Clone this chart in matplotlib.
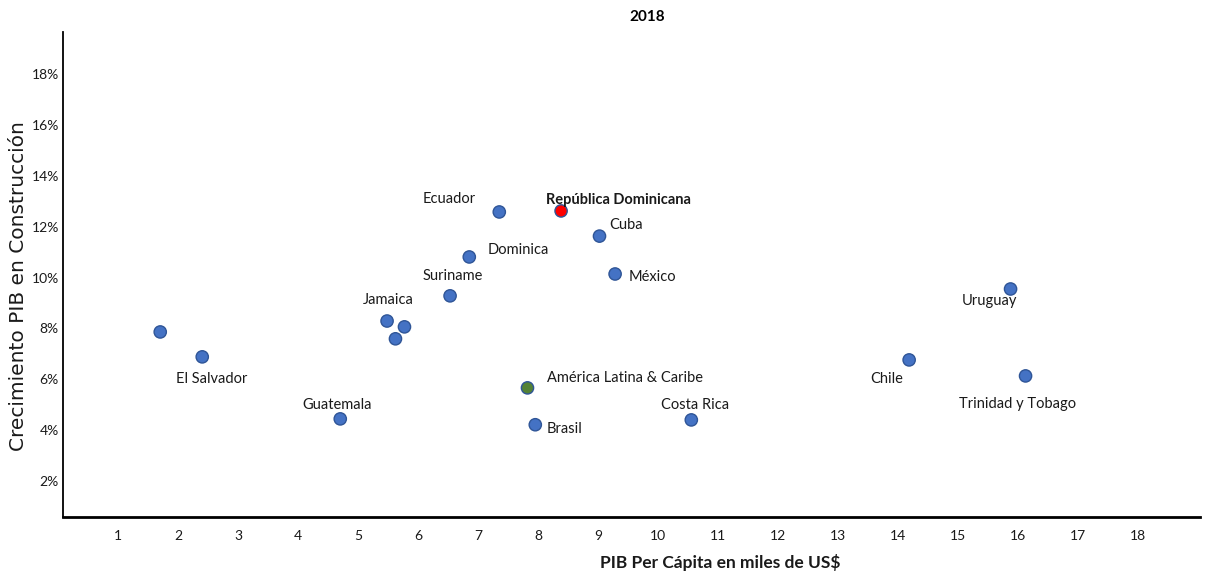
import matplotlib.pyplot as plt
from matplotlib.ticker import PercentFormatter

plt.rcParams['font.family'] = ['Lato', 'DejaVu Sans']

# PIB per cápita (miles de US$) y crecimiento del PIB en construcción (%)
paises = ['', 'El Salvador', 'Guatemala', 'Jamaica', '', '', 'Suriname',
          'Dominica', 'Ecuador', 'República Dominicana', 'Cuba', 'México',
          'América Latina & Caribe', 'Brasil', 'Costa Rica', 'Chile',
          'Uruguay', 'Trinidad y Tobago']
pib_pc = [1.70, 2.40, 4.70, 5.48, 5.77, 5.62, 6.53, 6.85, 7.35, 8.38, 9.02,
          9.28, 7.82, 7.95, 10.55, 14.18, 15.87, 16.12]
crec = [7.86, 6.88, 4.44, 8.29, 8.06, 7.59, 9.28, 10.81, 12.58, 12.62, 11.63,
        10.14, 5.66, 4.21, 4.40, 6.76, 9.55, 6.13]

# desplazamiento de cada etiqueta (puntos) y alineación horizontal
offsets = [(0, 0, 'center'), (7, -16, 'center'), (-2, 10, 'center'),
           (1, 15, 'center'), (0, 0, 'center'), (0, 0, 'center'),
           (2, 14, 'center'), (13, 5, 'left'), (-36, 9, 'center'),
           (-11, 8, 'left'), (7, 8, 'left'), (10, -2, 'left'),
           (14, 7, 'left'), (8, -3, 'left'), (3, 11, 'center'),
           (-16, -14, 'center'), (-15, -9, 'center'), (-6, -20, 'center')]

azul = '#4472C4'
borde = '#2F5597'
colores = [azul] * len(paises)
colores[paises.index('República Dominicana')] = '#FF0000'
colores[paises.index('América Latina & Caribe')] = '#548235'

fig = plt.figure(figsize=(12.05, 5.73), dpi=100)
ax = fig.add_axes([0.0523, 0.0977, 0.9437, 0.8465])

ax.scatter(pib_pc, crec, s=78, c=colores, edgecolors=borde, linewidths=1.0, zorder=3)

for nombre, x, y, (dx, dy, ha) in zip(paises, pib_pc, crec, offsets):
    if not nombre:
        continue
    peso = 'bold' if nombre == 'República Dominicana' else 'normal'
    ax.annotate(nombre, (x, y), xytext=(dx, dy), textcoords='offset points',
                ha=ha, va='center', fontsize=10.5, fontweight=peso, color='#1a1a1a')

ax.set_xlim(0.08, 19.03)
ax.set_ylim(0.58, 19.66)
ax.set_xticks(range(1, 19))
ax.set_yticks(range(2, 19, 2))
ax.yaxis.set_major_formatter(PercentFormatter(decimals=0))
ax.tick_params(axis='both', length=0, labelsize=10, colors='#1a1a1a')
ax.tick_params(axis='x', pad=9)
ax.tick_params(axis='y', pad=3)

for lado in ['top', 'right']:
    ax.spines[lado].set_visible(False)
ax.spines['left'].set_linewidth(1.3)
ax.spines['bottom'].set_linewidth(2.0)

ax.set_title('2018', fontsize=11, fontweight='bold', pad=8, x=0.514)
fig.text(0.5975, 0.019, 'PIB Per Cápita en miles de US$', ha='center', va='center',
         fontsize=12.5, fontweight='bold', color='#1a1a1a')
fig.text(0.015, 0.501, 'Crecimiento PIB en Construcción', rotation=90,
         ha='center', va='center', fontsize=14.5, family=['DejaVu Sans'],
         color='#1a1a1a')

fig.savefig('out.png', dpi=100)
